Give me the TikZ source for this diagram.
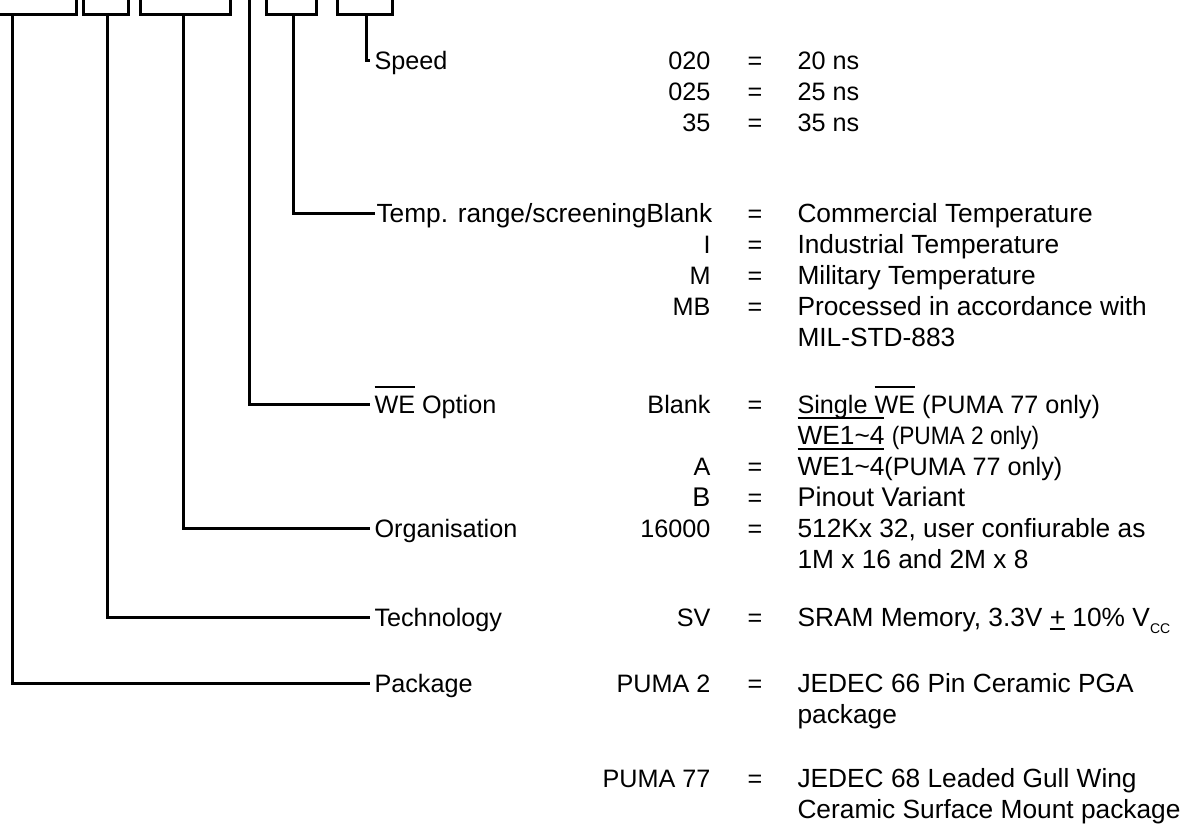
\documentclass[tikz,border=0pt]{standalone}
\usepackage{fontspec}
\setmainfont{Liberation Sans}
\newfontfamily\narrowA[FakeStretch=0.9]{Liberation Sans}
\newcommand\fs{\fontsize{25.2}{30}\selectfont}
\newcommand\fb{\fontsize{26.3}{30}\selectfont}
\newcommand\myovl[1]{\setbox0=\hbox{#1}\rlap{\rule[25pt]{\wd0}{2pt}}\box0\relax}
\newcommand\mypm{\setbox0=\hbox{+}\rlap{\rule[-4pt]{\wd0}{2pt}}\box0\relax}
\begin{document}
\begin{tikzpicture}[x=1pt,y=-1pt,line width=3pt,
  every node/.style={inner sep=0pt,text height=18pt,text depth=0pt,font=\fs},
  lbl/.style={anchor=west,inner xsep=3pt},
  val/.style={anchor=east},
  eq/.style={anchor=center},
  dsc/.style={anchor=west,font=\fb}]
\useasboundingbox (0,0) rectangle (1194,833);
\clip (0,0) rectangle (1194,833);
% code boxes (tops cut off)
\draw (-10,14) -- (76,14) -- (76,-10);
\draw (83,-10) |- (128,14) -- (128,-10);
\draw (140,-10) |- (230,14) -- (230,-10);
\draw (266,-10) |- (316,14) -- (316,-10);
\draw (337,-10) |- (392,14) -- (392,-10);
\coordinate (s1) at (12,14);
\coordinate (s2) at (107,14);
\coordinate (s3) at (183,14);
\coordinate (s4) at (249,-10);
\coordinate (s5) at (293,14);
\coordinate (s6) at (366,14);
% Speed
\node[lbl] (speed) at (370,60) {Speed};
\node[val] (v020) at (712,60) {020};
\node[eq] (e020) at (755,60) {=};
\node[dsc,font=\fs] (d020) at (796,60) {20 ns};
\node[val] (v025) at (712,91) {025};
\node[eq] (e025) at (755,91) {=};
\node[dsc,font=\fs] (d025) at (796,91) {25 ns};
\node[val] (v35) at (712,122) {35};
\node[eq] (e35) at (755,122) {=};
\node[dsc,font=\fs] (d35) at (796,122) {35 ns};
% Temp
\node[anchor=west,font=\fb] (temp) at (375,213) {Temp. range/screeningBlank};
\node[eq] (etb) at (755,213) {=};
\node[dsc] (dtb) at (796,213) {Commercial Temperature};
\node[val] (vi) at (712,244) {I};
\node[eq] (ei) at (755,244) {=};
\node[dsc] (di) at (796,244) {Industrial Temperature};
\node[val] (vm) at (712,275) {M};
\node[eq] (em) at (755,275) {=};
\node[dsc] (dm) at (796,275) {Military Temperature};
\node[val] (vmb) at (712,306) {MB};
\node[eq] (emb) at (755,306) {=};
\node[dsc] (dmb) at (796,306) {Processed in accordance with};
\node[dsc] (dmb2) at (796,337) {MIL-STD-883};
% WE option
\node[lbl] (we) at (370,404) {\myovl{WE} Option};
\node[val] (vwb) at (712,404) {Blank};
\node[eq] (ewb) at (755,404) {=};
\node[dsc,font=\fs] (dwb) at (796,404) {Single \myovl{WE} (PUMA 77 only)};
\node[dsc] (dwb2) at (796,435) {\myovl{WE1\textasciitilde4} {\fs\narrowA(PUMA 2 only)}};
\node[val] (va) at (712,466) {A};
\node[eq] (ea) at (755,466) {=};
\node[dsc] (da) at (796,466) {\myovl{WE1\textasciitilde4}{\fs(PUMA 77 only)}};
\node[val,font=\fontsize{27}{30}\selectfont] (vb) at (712,497) {B};
\node[eq] (eb) at (755,497) {=};
\node[dsc,font=\fontsize{27}{30}\selectfont] (db) at (796,497) {Pinout Variant};
% Organisation
\node[lbl] (org) at (370,528) {Organisation};
\node[val] (v16) at (712,528) {16000};
\node[eq] (e16) at (755,528) {=};
\node[dsc] (d16) at (796,528) {512Kx 32, user confiurable as};
\node[dsc] (d16b) at (796,559) {1M x 16 and 2M x 8};
% Technology
\node[lbl] (tech) at (370,617) {Technology};
\node[val] (vsv) at (712,617) {SV};
\node[eq] (esv) at (755,617) {=};
\node[dsc] (dsv) at (796,617) {SRAM Memory, 3.3V \mypm{} 10\% V\raisebox{-7pt}{\fontsize{14}{14}\selectfont CC}};
% Package
\node[lbl] (pkg) at (370,683) {Package};
\node[val] (vp2) at (712,683) {PUMA 2};
\node[eq] (ep2) at (755,683) {=};
\node[dsc] (dp2) at (796,683) {JEDEC 66 Pin Ceramic PGA};
\node[dsc] (dp2b) at (796,714) {package};
\node[val] (vp77) at (712,778) {PUMA 77};
\node[eq] (ep77) at (755,778) {=};
\node[dsc] (dp77) at (796,778) {JEDEC 68 Leaded Gull Wing};
\node[dsc] (dp77b) at (796,809) {Ceramic Surface Mount package};
% connectors
\draw (s6) |- (speed.west);
\draw (s5) |- (temp.west);
\draw (s4) |- (we.west);
\draw (s3) |- (org.west);
\draw (s2) |- (tech.west);
\draw (s1) |- (pkg.west);
\end{tikzpicture}
\end{document}
